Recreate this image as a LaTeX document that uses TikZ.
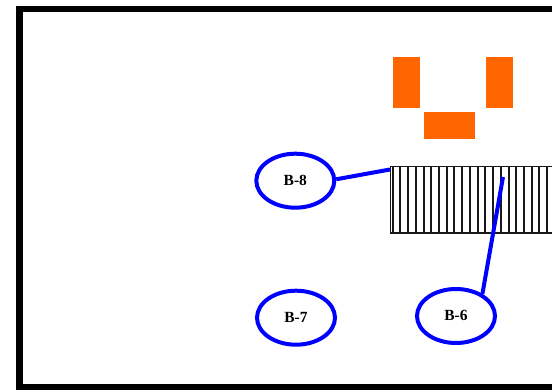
\documentclass[tikz,border=0pt]{standalone}
\usepackage{fontspec}
\setmainfont{Liberation Serif}
\usetikzlibrary{shapes.geometric}
\definecolor{blk}{HTML}{FF6600}
\tikzset{
  frame/.style={draw=black,line width=6.4pt},
  block/.style={fill=blk,draw=none},
  beam/.style={draw=black!90,line width=1.5pt},
  stripe/.style={draw=black!90,line width=2pt},
  bubble/.style={draw=blue,line width=4pt,ellipse,minimum width=78pt,minimum height=54pt,inner sep=0pt,fill=white,font=\bfseries\fontsize{15.5pt}{17pt}\selectfont,text depth=1pt},
  link/.style={draw=blue,line width=4pt}
}
\begin{document}
\begin{tikzpicture}[x=1pt,y=-1pt]
\useasboundingbox (0,0) rectangle (552,390);
\clip (0,0) rectangle (552,390);
\draw[frame] (19.5,9) rectangle (600,387.5);
\fill[block] (393,57) rectangle (420,108);
\fill[block] (486,57) rectangle (513,108);
\fill[block] (424,112) rectangle (475,139);
\foreach \k in {0,...,21} {
  \draw[stripe] ({392.6+7.73*\k},166.5) -- ({392.6+7.73*\k},233);
}
\draw[beam] (390.5,166.5) rectangle (600,233);
\node[bubble] (b8) at (295.3,180.7) {B-8};
\node[bubble] (b7) at (296,317.7) {B-7};
\node[bubble] (b6) at (456,316) {B-6};
\coordinate (e8) at (390,169.5);
\coordinate (e6) at (503,177);
\draw[link] (b8.2) -- (e8);
\draw[link] (b6.40) -- (e6);
\end{tikzpicture}
\end{document}
